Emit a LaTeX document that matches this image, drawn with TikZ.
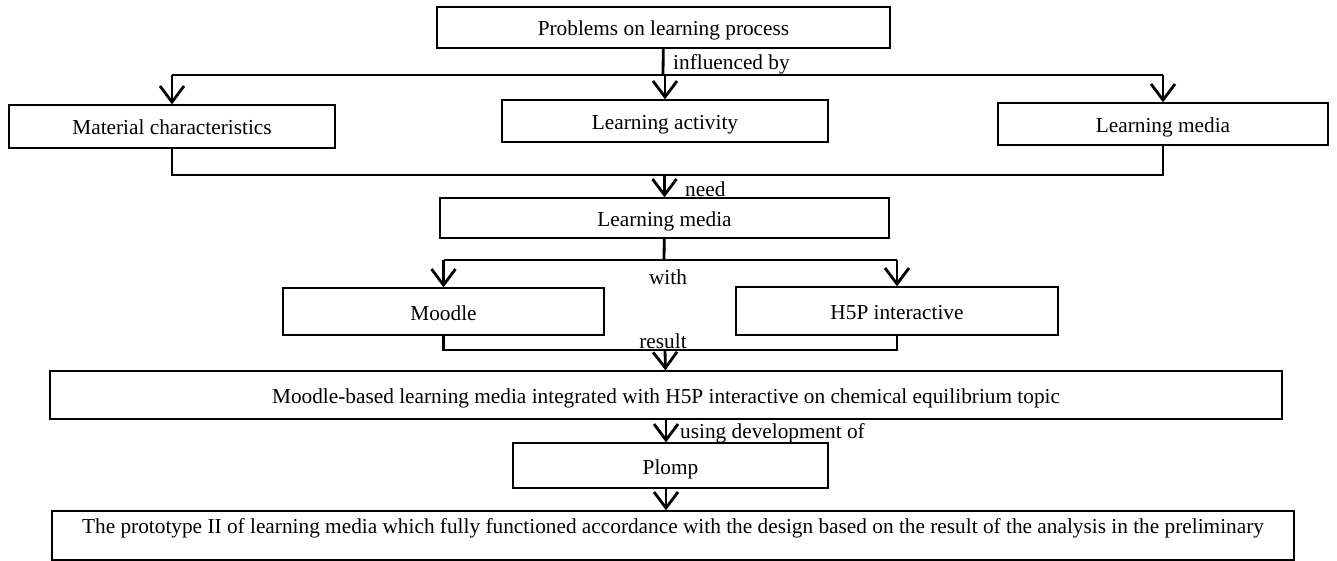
\documentclass[tikz,border=0pt]{standalone}
\usepackage{fontspec}
\setmainfont{Liberation Serif}
\usetikzlibrary{arrows.meta}
\begin{document}
\begin{tikzpicture}[x=1pt, y=-1pt, >={Straight Barb[length=16pt,width=24pt]},
  block/.style={draw, line width=1.3pt, inner sep=0pt, align=center, text height=22pt, text depth=5pt, font=\fontsize{21.3}{25}\selectfont},
  flow/.style={line width=2.8pt},
  relation/.style={font=\fontsize{21.3}{25}\selectfont, inner sep=0pt}]
\useasboundingbox (0,0) rectangle (1337,561);
\node[block, minimum width=453pt, minimum height=41pt] (top) at (663.5,27.5) {Problems on learning process};
\node[block, minimum width=326pt, minimum height=43pt] (mat) at (172,126.5) {Material characteristics};
\node[block, minimum width=326pt, minimum height=42pt] (act) at (665,121) {Learning activity};
\node[block, minimum width=330pt, minimum height=42pt] (med) at (1163,124) {Learning media};
\node[block, minimum width=449pt, minimum height=40pt] (lm) at (664.5,218) {Learning media};
\node[block, minimum width=321pt, minimum height=47pt] (moodle) at (443.5,311.5) {Moodle};
\node[block, minimum width=322pt, minimum height=48pt] (h5p) at (897,311) {H5P interactive};
\node[block, minimum width=1232pt, minimum height=48pt] (res) at (666,395) {Moodle-based learning media integrated with H5P interactive on chemical equilibrium topic};
\node[block, minimum width=315pt, minimum height=45pt] (plomp) at (670.5,465.5) {Plomp};
\node[block, minimum width=1242pt, minimum height=49pt, text height=16pt, text depth=20pt] (proto) at (673,535.5) {The prototype II of learning media which fully functioned accordance with the design based on the result of the analysis in the preliminary};
% junctions
\coordinate (j1) at (663,75);
\coordinate (j2) at (660,175);
\coordinate (j3) at (664,260);
\coordinate (j4) at (665,350);
% top level
\draw[flow] (top) -- (j1);
\draw[flow] (j1 -| mat) -- (j1 -| med);
\draw[flow,->] (j1 -| mat) -- (mat);
\draw[flow,->] (j1 -| act) -- (act);
\draw[flow,->] (j1 -| med) -- (med);
\node[relation, anchor=west] (l1) at (673,64) {influenced by};
% merge to learning media
\draw[flow] (mat.south) -- (mat.south |- j2) -- (med.south |- j2) -- (med.south);
\draw[flow,->] (j2 -| lm) -- (lm);
\node[relation, anchor=west] (l2) at (685,189) {need};
% split to moodle and h5p
\draw[flow] (lm) -- (j3);
\draw[flow] (j3 -| moodle) -- (j3 -| h5p);
\draw[flow,->] (j3 -| moodle) -- (moodle);
\draw[flow,->] (j3 -| h5p) -- (h5p);
\node[relation] (l3) at (668,277) {with};
% merge to result
\draw[flow] (moodle.south) -- (moodle.south |- j4) -- (h5p.south |- j4) -- (h5p.south);
\draw[flow,->] (j4) -- (res);
\node[relation] (l4) at (663,341) {result};
% method and prototype
\draw[flow,->] (res) -- (res |- plomp.north);
\node[relation, anchor=west] (l5) at (680,433) {using development of};
\draw[flow,->] (res |- plomp.south) -- (res |- proto.north);
\end{tikzpicture}
\end{document}
